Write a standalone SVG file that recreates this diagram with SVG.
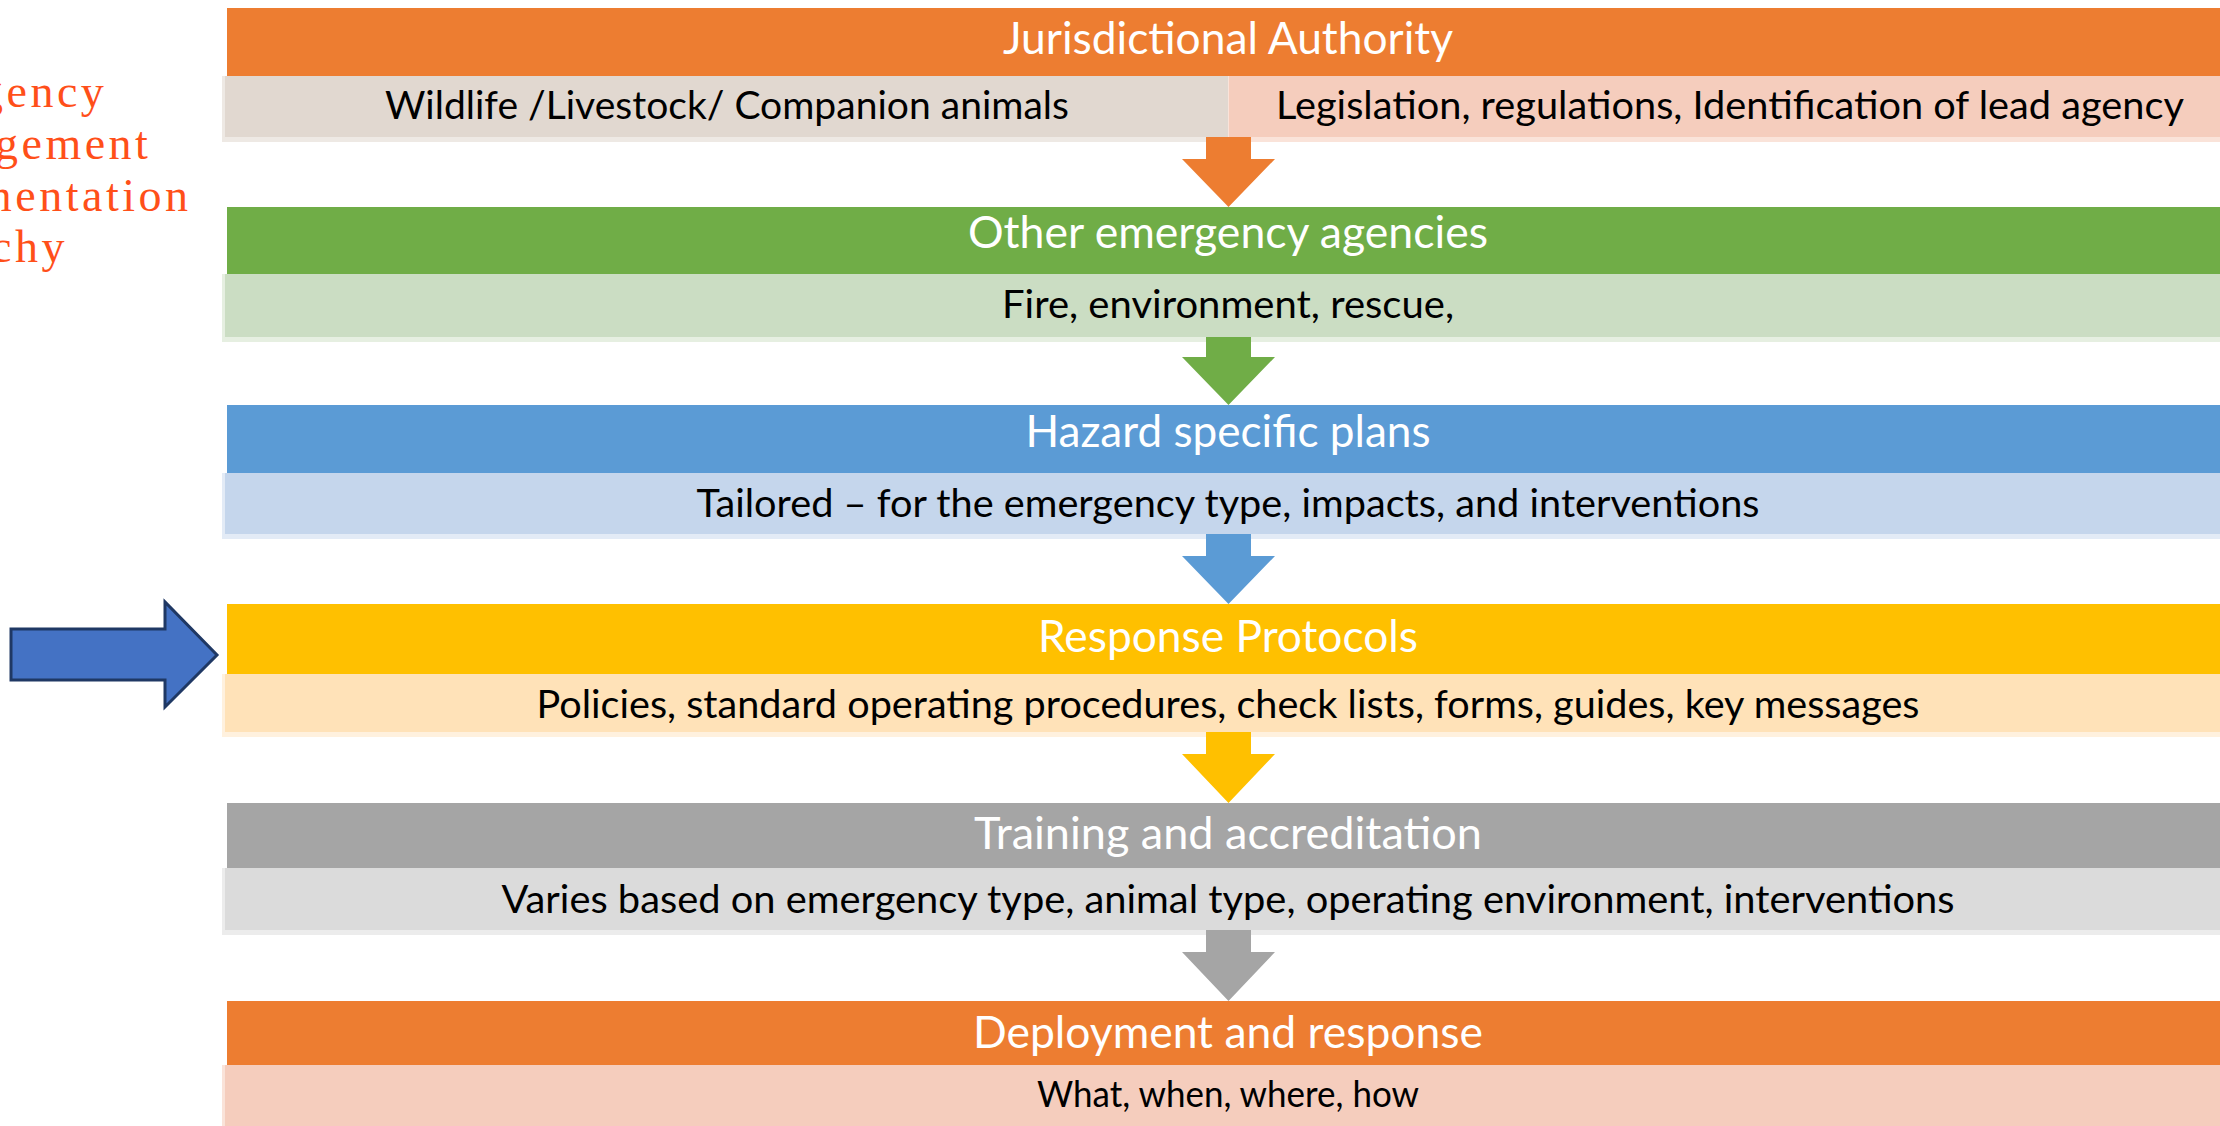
<svg xmlns="http://www.w3.org/2000/svg" width="2220" height="1126" viewBox="0 0 2220 1126">
<style>
.hd{font-family:Lato,"Liberation Sans",sans-serif;font-size:44px;fill:#ffffff;text-anchor:middle}
.bd{font-family:Lato,"Liberation Sans",sans-serif;font-size:39px;fill:#000000;text-anchor:middle}
.sm{font-size:36px}
.side{font-family:"Liberation Serif","Times New Roman",serif;font-size:46px;fill:#FF4F19;letter-spacing:3.5px}
</style>
<rect x="0" y="0" width="2220" height="1126" fill="#ffffff"/>

<g id="title-side">
<text class="side" x="-20" y="107">gency</text>
<text class="side" x="-5" y="159">gement</text>
<text class="side" x="-24" y="211">mentation</text>
<text class="side" x="-9" y="262">chy</text>
</g>

<g id="jurisdictional-authority">
<rect x="222" y="76" width="1010" height="66" fill="#EEE9E4"/>
<rect x="1228" y="76" width="1010" height="66" fill="#FAE3D9"/>
<rect x="225" y="76" width="1003" height="61" fill="#E1D8D0"/>
<rect x="1229" y="76" width="1010" height="61" fill="#F5CDBD"/>
<rect x="227" y="8" width="2010" height="68" fill="#ED7D31"/>
<text class="hd" x="1228" y="54" textLength="450" lengthAdjust="spacingAndGlyphs">Jurisdictional Authority</text>
<text class="bd" x="727" y="119" textLength="684" lengthAdjust="spacingAndGlyphs">Wildlife /Livestock/ Companion animals</text>
<text class="bd" x="1730" y="119" textLength="908" lengthAdjust="spacingAndGlyphs">Legislation, regulations, Identification of lead agency</text>
</g>

<g id="other-emergency-agencies">
<rect x="222" y="274" width="2010" height="68" fill="#E6EFE1"/>
<rect x="225" y="274" width="2010" height="63" fill="#CBDDC3"/>
<rect x="227" y="207" width="2010" height="67" fill="#70AD47"/>
<text class="hd" x="1228" y="248" textLength="520" lengthAdjust="spacingAndGlyphs">Other emergency agencies</text>
<text class="bd" x="1228" y="318" textLength="452" lengthAdjust="spacingAndGlyphs">Fire, environment, rescue,</text>
</g>

<g id="hazard-specific-plans">
<rect x="222" y="473" width="2010" height="66" fill="#E3EBF6"/>
<rect x="225" y="473" width="2010" height="61" fill="#C5D6EC"/>
<rect x="227" y="405" width="2010" height="68" fill="#5B9BD5"/>
<text class="hd" x="1228" y="447" textLength="405" lengthAdjust="spacingAndGlyphs">Hazard specific plans</text>
<text class="bd" x="1228" y="517" textLength="1063" lengthAdjust="spacingAndGlyphs">Tailored – for the emergency type, impacts, and interventions</text>
</g>

<g id="response-protocols">
<rect x="222" y="674" width="2010" height="63" fill="#FFF1DE"/>
<rect x="225" y="674" width="2010" height="58" fill="#FFE2B8"/>
<rect x="227" y="604" width="2010" height="70" fill="#FFC000"/>
<text class="hd" x="1228" y="652" textLength="380" lengthAdjust="spacingAndGlyphs">Response Protocols</text>
<text class="bd" x="1228" y="718" textLength="1383" lengthAdjust="spacingAndGlyphs">Policies, standard operating procedures, check lists, forms, guides, key messages</text>
</g>

<g id="training-and-accreditation">
<rect x="222" y="868" width="2010" height="67" fill="#ECECEC"/>
<rect x="225" y="868" width="2010" height="62" fill="#DBDBDB"/>
<rect x="227" y="803" width="2010" height="65" fill="#A5A5A5"/>
<text class="hd" x="1228" y="849" textLength="508" lengthAdjust="spacingAndGlyphs">Training and accreditation</text>
<text class="bd" x="1228" y="913" textLength="1453" lengthAdjust="spacingAndGlyphs">Varies based on emergency type, animal type, operating environment, interventions</text>
</g>

<g id="deployment-and-response">
<rect x="222" y="1065" width="2010" height="70" fill="#FAE3D9"/>
<rect x="225" y="1065" width="2010" height="70" fill="#F5CDBD"/>
<rect x="227" y="1001" width="2010" height="64" fill="#ED7D31"/>
<text class="hd" x="1228" y="1048" textLength="510" lengthAdjust="spacingAndGlyphs">Deployment and response</text>
<text class="bd sm" x="1228" y="1107" textLength="382" lengthAdjust="spacingAndGlyphs">What, when, where, how</text>
</g>

<g id="connectors">
<polygon fill="#ED7D31" points="1206,137 1251,137 1251,159 1275,159 1228.5,207 1182,159 1206,159"/>
<polygon fill="#70AD47" points="1206,337 1251,337 1251,357 1275,357 1228.5,405 1182,357 1206,357"/>
<polygon fill="#5B9BD5" points="1206,534 1251,534 1251,556 1275,556 1228.5,604 1182,556 1206,556"/>
<polygon fill="#FFC000" points="1206,732 1251,732 1251,754 1275,754 1228.5,803 1182,754 1206,754"/>
<polygon fill="#A5A5A5" points="1206,930 1251,930 1251,952 1275,952 1228.5,1001 1182,952 1206,952"/>
<polygon fill="#4472C4" stroke="#1F3864" stroke-width="3" stroke-linejoin="miter" points="11,629 165,629 165,602 217,655 165,707 165,680 11,680"/>
</g>
</svg>
